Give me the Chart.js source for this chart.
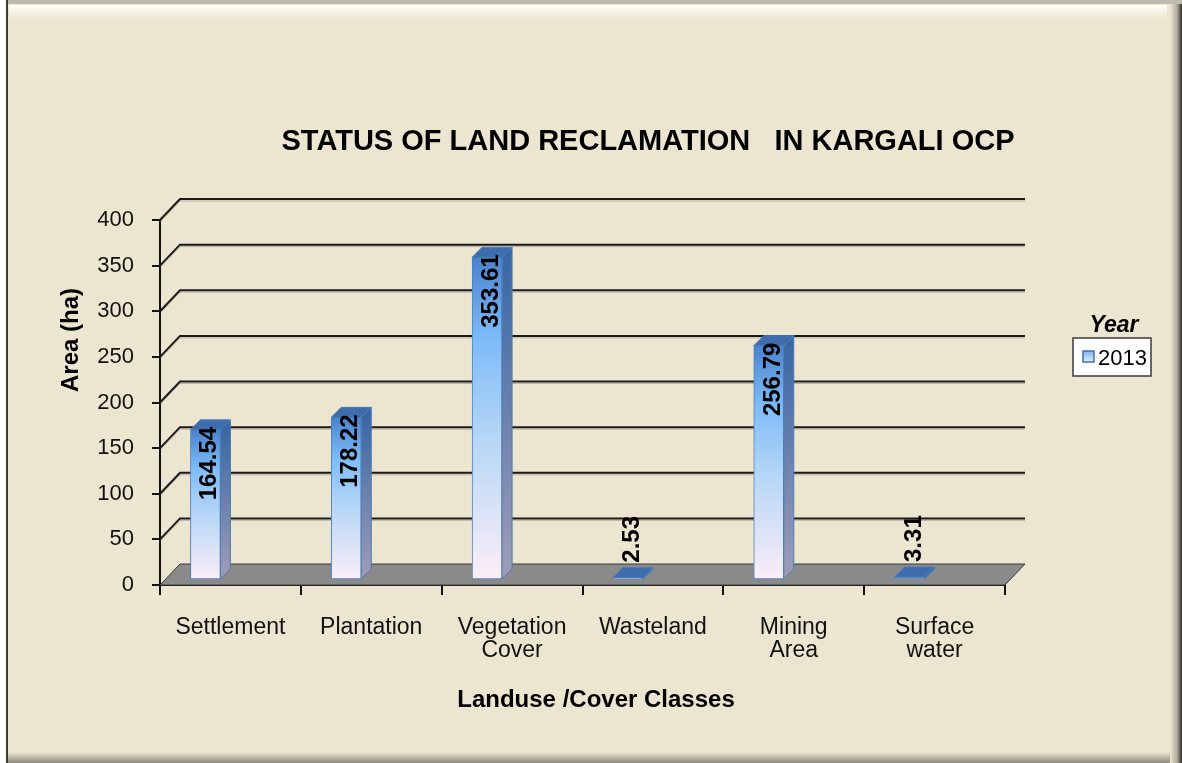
<!DOCTYPE html>
<html>
<head>
<meta charset="utf-8">
<title>Status of land reclamation in Kargali OCP</title>
<script src="https://cdn.jsdelivr.net/npm/chart.js@4"></script>
<style>
  html, body { margin: 0; padding: 0; background: #fff; overflow: hidden; }
  .chart-box { position: relative; width: 1182px; height: 763px; }
</style>
</head>
<body>
<div class="chart-box"><canvas id="landChart"></canvas></div>
<script>
const categories = [['Settlement'], ['Plantation'], ['Vegetation', 'Cover'], ['Wasteland'], ['Mining', 'Area'], ['Surface', 'water']];
const area2013 = [164.54, 178.22, 353.61, 2.53, 256.79, 3.31];
const seriesLabel = '2013';
const legendTitle = 'Year';
const yMin = 0;
const yMax = 400;
const yStep = 50;
const chartTitle = 'STATUS OF LAND RECLAMATION   IN KARGALI OCP';
const xAxisTitle = 'Landuse /Cover Classes';
const yAxisTitle = 'Area (ha)';

const FONT = '"Liberation Sans", Arial, sans-serif';
const BG = '#ECE6D1';
// bars stand a little into the depth, the wall is at the back
const SHIFT_X = -25, SHIFT_Y = -5;
const WALL_DX = 20, WALL_DY = -21;
const BAR_DX = 10, BAR_DY = -10;

function frontGradient(context) {
  const chart = context.chart;
  const y = chart.scales && chart.scales.y;
  if (!y || !Number.isFinite(context.raw)) return '#7DBBF8';
  const top = y.getPixelForValue(context.raw);
  const bottom = y.getPixelForValue(0);
  if (!Number.isFinite(top) || !Number.isFinite(bottom) || top === bottom) return '#7DBBF8';
  const g = chart.ctx.createLinearGradient(0, top, 0, bottom);
  g.addColorStop(0, '#4A82CC');
  g.addColorStop(0.25, '#7DBBF8');
  g.addColorStop(0.55, '#B4D6F6');
  g.addColorStop(1, '#FCEEF8');
  return g;
}

const framePlugin = {
  id: 'frame',
  beforeDraw(chart) {
    const { ctx, width: w, height: h } = chart;
    ctx.save();
    ctx.fillStyle = '#fff';
    ctx.fillRect(0, 0, w, h);
    ctx.fillStyle = BG;
    ctx.fillRect(6, 4, w - 6, h - 4);
    ctx.fillStyle = '#BEBAAD';
    ctx.fillRect(6, 0, w - 6, 4);

    let g = ctx.createLinearGradient(0, 5, 0, 20);
    g.addColorStop(0, 'rgba(255,255,248,1)');
    g.addColorStop(1, 'rgba(255,255,248,0)');
    ctx.fillStyle = g;
    ctx.fillRect(9, 5, w - 24, 15);

    g = ctx.createLinearGradient(1170, 0, w, 0);
    g.addColorStop(0, BG);
    g.addColorStop(0.6, '#ADAA9B');
    g.addColorStop(1, '#2E2D28');
    ctx.fillStyle = g;
    ctx.fillRect(1170, 4, w - 1170, h - 4);

    g = ctx.createLinearGradient(0, 752, 0, h);
    g.addColorStop(0, BG);
    g.addColorStop(1, '#8D8A7E');
    ctx.fillStyle = g;
    ctx.fillRect(8, 752, 1162, h - 752);

    ctx.fillStyle = '#3B3A33';
    ctx.fillRect(6, 0, 2, h);
    ctx.restore();
  }
};

const boxPlugin = {
  id: 'box3d',
  beforeDatasetsDraw(chart) {
    const { ctx, chartArea: a, scales } = chart;
    const y = scales.y;
    const y0 = y.getPixelForValue(0);
    ctx.save();
    // floor
    ctx.beginPath();
    ctx.moveTo(a.left, y0);
    ctx.lineTo(a.right, y0);
    ctx.lineTo(a.right + WALL_DX, y0 + WALL_DY);
    ctx.lineTo(a.left + WALL_DX, y0 + WALL_DY);
    ctx.closePath();
    ctx.fillStyle = '#8A8A8A';
    ctx.fill();
    ctx.strokeStyle = '#3A3A3A';
    ctx.lineWidth = 1;
    ctx.stroke();
    // back wall grid lines
    for (let v = yMin + yStep; v <= yMax; v += yStep) {
      const py = y.getPixelForValue(v);
      ctx.beginPath();
      ctx.moveTo(a.left, py + 2);
      ctx.lineTo(a.left + WALL_DX, py + WALL_DY + 2);
      ctx.lineTo(a.right + WALL_DX, py + WALL_DY + 2);
      ctx.strokeStyle = 'rgba(90,85,70,0.35)';
      ctx.lineWidth = 1;
      ctx.stroke();
      ctx.beginPath();
      ctx.moveTo(a.left, py);
      ctx.lineTo(a.left + WALL_DX, py + WALL_DY);
      ctx.lineTo(a.right + WALL_DX, py + WALL_DY);
      ctx.strokeStyle = '#1A1A1A';
      ctx.lineWidth = 2;
      ctx.stroke();
    }
    ctx.restore();
    ctx.save();
    ctx.translate(SHIFT_X, SHIFT_Y);
  },
  afterDatasetsDraw(chart) {
    const { ctx } = chart;
    const meta = chart.getDatasetMeta(0);
    meta.data.forEach((bar, i) => {
      const { x, y, base, width } = bar.getProps(['x', 'y', 'base', 'width'], true);
      const l = x - width / 2, r = x + width / 2;

      // right side
      let g = ctx.createLinearGradient(0, y, 0, base);
      g.addColorStop(0, '#3A68A6');
      g.addColorStop(1, '#A09DB6');
      ctx.beginPath();
      ctx.moveTo(r, y);
      ctx.lineTo(r + BAR_DX, y + BAR_DY);
      ctx.lineTo(r + BAR_DX, base + BAR_DY);
      ctx.lineTo(r, base);
      ctx.closePath();
      ctx.fillStyle = g;
      ctx.fill();
      ctx.strokeStyle = '#4A7BB7';
      ctx.lineWidth = 1;
      ctx.stroke();

      // top
      ctx.beginPath();
      ctx.moveTo(l, y);
      ctx.lineTo(r, y);
      ctx.lineTo(r + BAR_DX, y + BAR_DY);
      ctx.lineTo(l + BAR_DX, y + BAR_DY);
      ctx.closePath();
      ctx.fillStyle = '#3D6DAD';
      ctx.fill();
      ctx.strokeStyle = '#4A7BB7';
      ctx.stroke();

      // value label
      const text = area2013[i].toFixed(2);
      ctx.save();
      ctx.font = 'bold 24px ' + FONT;
      ctx.fillStyle = '#000';
      ctx.textBaseline = 'alphabetic';
      const inside = base - y > 80;
      ctx.translate(x + 11, inside ? y - 3 : y - 15);
      ctx.rotate(-Math.PI / 2);
      ctx.textAlign = inside ? 'right' : 'left';
      ctx.fillText(text, 0, 0);
      ctx.restore();
    });
    ctx.restore();
  },
  afterDraw(chart) {
    const { ctx } = chart;
    ctx.save();
    ctx.fillStyle = '#000';
    ctx.textBaseline = 'alphabetic';

    ctx.font = 'bold 29px ' + FONT;
    ctx.textAlign = 'center';
    ctx.fillText(chartTitle, 648, 150);

    ctx.font = 'bold 24px ' + FONT;
    ctx.fillText(xAxisTitle, 596, 707);

    ctx.save();
    ctx.translate(78, 340);
    ctx.rotate(-Math.PI / 2);
    ctx.font = 'bold 24px ' + FONT;
    ctx.fillText(yAxisTitle, 0, 0);
    ctx.restore();

    // legend
    ctx.font = 'italic bold 23px ' + FONT;
    ctx.fillText(legendTitle, 1114, 332);

    ctx.fillStyle = '#fff';
    ctx.fillRect(1073, 338, 78, 38);
    ctx.strokeStyle = '#3A3A3A';
    ctx.lineWidth = 1.5;
    ctx.strokeRect(1073, 338, 78, 38);

    const g = ctx.createLinearGradient(0, 351, 0, 362);
    g.addColorStop(0, '#7DB3EE');
    g.addColorStop(1, '#E6EEFA');
    ctx.fillStyle = g;
    ctx.fillRect(1083, 351, 11, 11);
    ctx.strokeStyle = '#3F6FAE';
    ctx.lineWidth = 1.5;
    ctx.strokeRect(1083, 351, 11, 11);

    ctx.fillStyle = '#000';
    ctx.font = '22px ' + FONT;
    ctx.textAlign = 'left';
    ctx.fillText(seriesLabel, 1098, 365);
    ctx.restore();
  }
};

const data = {
  labels: categories,
  datasets: [{
    label: seriesLabel,
    data: area2013,
    backgroundColor: frontGradient,
    borderColor: '#4F81BD',
    borderWidth: 1,
    borderSkipped: false,
    barThickness: 30
  }]
};

const options = {
  responsive: true,
  maintainAspectRatio: false,
  animation: false,
  layout: {
    padding: { left: 0, top: 220, right: 177, bottom: 0 }
  },
  plugins: {
    legend: { display: false },
    title: { display: false },
    tooltip: { enabled: false }
  },
  scales: {
    x: {
      afterFit: (scale) => { scale.height = 178; },
      grid: {
        offset: true,
        drawOnChartArea: false,
        drawTicks: true,
        tickLength: 10,
        color: '#111',
        lineWidth: 2
      },
      border: { display: true, color: '#111', width: 2 },
      ticks: {
        color: '#111',
        padding: 21,
        maxRotation: 0,
        autoSkip: false,
        font: { family: FONT, size: 23, lineHeight: 1 }
      }
    },
    y: {
      min: yMin,
      max: yMax,
      afterFit: (scale) => { scale.width = 160; },
      grid: {
        drawOnChartArea: false,
        drawTicks: true,
        tickLength: 8,
        color: '#111',
        lineWidth: 2
      },
      border: { display: true, color: '#111', width: 2 },
      ticks: {
        stepSize: yStep,
        color: '#111',
        padding: 18,
        font: { family: FONT, size: 22 }
      }
    }
  }
};

const config = {
  type: 'bar',
  data: data,
  options: options,
  plugins: [framePlugin, boxPlugin]
};

new Chart(document.getElementById('landChart'), config);
</script>
</body>
</html>
